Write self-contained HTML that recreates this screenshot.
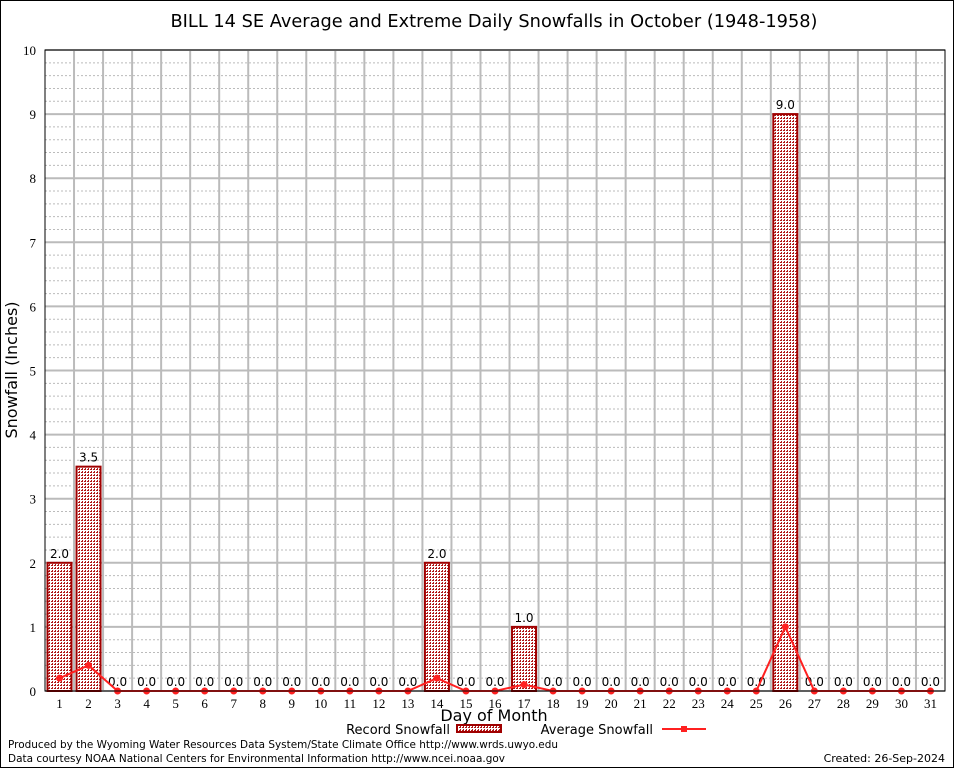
<!DOCTYPE html>
<html><head><meta charset="utf-8"><style>
body{margin:0;background:#fff}
svg{display:block;font-family:"DejaVu Sans","Liberation Sans",sans-serif}
</style></head><body>
<svg width="954" height="768" viewBox="0 0 954 768">
<defs>
<pattern id="chk" width="3" height="3" patternUnits="userSpaceOnUse">
<rect width="3" height="3" fill="#fff"/><rect width="2" height="2" fill="#b01818"/><rect x="0" y="0" width="1" height="1" fill="#fff"/>
</pattern>
</defs>
<rect x="0.5" y="0.5" width="953" height="767" fill="#fff" stroke="#000"/>
<text x="494" y="27" text-anchor="middle" font-size="18" textLength="647" lengthAdjust="spacingAndGlyphs">BILL 14 SE Average and Extreme Daily Snowfalls in October (1948-1958)</text>
<g id="grid"></g>
<g id="bars"></g>
<g id="line"></g>
<g id="axes"></g>
<text transform="translate(17,370) rotate(-90)" text-anchor="middle" font-size="16">Snowfall (Inches)</text>
<text x="494" y="721" text-anchor="middle" font-size="16">Day of Month</text>
<g>
<text x="450" y="734" text-anchor="end" font-size="13">Record Snowfall</text>
<rect x="457" y="725" width="44" height="7" fill="url(#chk)" stroke="#a00000" stroke-width="2"/>
</g>
<g>
<text x="653" y="734" text-anchor="end" font-size="13">Average Snowfall</text>
<line x1="662" y1="729" x2="706" y2="729" stroke="#ff2020" stroke-width="2"/>
<rect x="681" y="726" width="6" height="6" fill="#ff2020"/>
</g>
<text x="8" y="748" font-size="11" textLength="550" lengthAdjust="spacingAndGlyphs">Produced by the Wyoming Water Resources Data System/State Climate Office http://www.wrds.uwyo.edu</text>
<text x="8" y="762" font-size="11" textLength="497" lengthAdjust="spacingAndGlyphs">Data courtesy NOAA National Centers for Environmental Information http://www.ncei.noaa.gov</text>
<text x="945" y="762" text-anchor="end" font-size="11">Created: 26-Sep-2024</text>
</svg>
<script>
const days=[1,2,3,4,5,6,7,8,9,10,11,12,13,14,15,16,17,18,19,20,21,22,23,24,25,26,27,28,29,30,31];
const recordSnow=[2.0,3.5,0,0,0,0,0,0,0,0,0,0,0,2.0,0,0,1.0,0,0,0,0,0,0,0,0,9.0,0,0,0,0,0];
const avgSnow=[0.2,0.4,0,0,0,0,0,0,0,0,0,0,0,0.2,0,0,0.1,0,0,0,0,0,0,0,0,1.0,0,0,0,0,0];
const yTicks=[0,1,2,3,4,5,6,7,8,9,10];
const NS='http://www.w3.org/2000/svg';
const X0=45,X1=945,Y0=691,Y1=50,YMAX=10;
const xs=d=>X0+(d-0.5)*(X1-X0)/31;
const ys=v=>Y0-v*(Y0-Y1)/YMAX;
function mk(p,t,a){const e=document.createElementNS(NS,t);for(const k in a)e.setAttribute(k,a[k]);p.appendChild(e);return e;}
const grid=document.getElementById('grid'),bars=document.getElementById('bars'),line=document.getElementById('line'),axes=document.getElementById('axes');
for(let v=0.2;v<YMAX;v+=0.2){if(Math.abs(v-Math.round(v))<1e-6)continue;
 const l=mk(grid,'line',{x1:X0,x2:X1,y1:ys(v),y2:ys(v),stroke:'#bbb','stroke-dasharray':'2,2','stroke-width':1});
 
 }
yTicks.forEach(v=>{const l=mk(grid,'line',{x1:X0,x2:X1,y1:ys(v),y2:ys(v),stroke:'#bbb','stroke-width':2});
 
 
 const t=mk(axes,'text',{x:X0-9,y:ys(v)+5,'text-anchor':'end','font-size':13,'font-family':'Liberation Serif,serif'});t.textContent=v;
 
 });
for(let i=1;i<31;i++){const l=mk(grid,'line',{x1:xs(i+0.5),x2:xs(i+0.5),y1:Y1,y2:Y0,stroke:'#bbb','stroke-width':2});
 
 }
days.forEach((d,i)=>{const v=recordSnow[i];const cx=xs(d);
 if(v>0){const r=mk(bars,'rect',{x:cx-12,y:ys(v),width:24,height:Y0-ys(v),fill:'url(#chk)',stroke:'#a00000','stroke-width':2});
 
 }
 const t=mk(bars,'text',{x:cx,y:ys(v)-5,'text-anchor':'middle','font-size':12});t.textContent=v.toFixed(1);
 
 
 const tl=mk(axes,'text',{x:cx,y:Y0+17,'text-anchor':'middle','font-size':13,'font-family':'Liberation Serif,serif'});tl.textContent=d;
 
 });
const pl=mk(line,'polyline',{points:days.map((d,i)=>xs(d)+','+ys(avgSnow[i])).join(' '),fill:'none',stroke:'#ff2020','stroke-width':2});


days.forEach((d,i)=>{const c=mk(line,'circle',{cx:xs(d),cy:ys(avgSnow[i]),r:3.5,fill:'#ff2020'});
 
 });
const ax=mk(axes,'path',{d:`M${X0},${Y1}V${Y0}H${X1}`,fill:'none',stroke:'#000','stroke-width':1});


const bx=mk(axes,'rect',{x:X0,y:Y1,width:X1-X0,height:Y0-Y1,fill:'none',stroke:'#000','stroke-width':1});


</script>
</body></html>
